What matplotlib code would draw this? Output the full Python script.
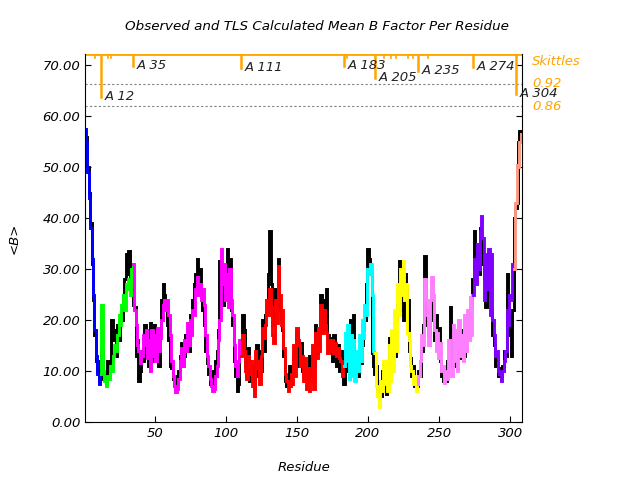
import numpy as np
import matplotlib
matplotlib.use('Agg')
import matplotlib.pyplot as plt
import matplotlib.transforms as mtransforms

# observed mean B per residue (black), residues 1..308
observed = [
    55.5, 56, 50, 45, 39, 31, 24, 17, 12, 10, 8, 12,
    14, 8.5, 9.5, 7.5, 12, 10, 12, 20, 16, 18, 13, 19, 16, 21, 20, 25, 28, 33, 29, 33.5, 27, 26, 23,
    22.5, 13, 16, 8, 10, 14, 12, 19, 13, 16, 11, 19.5, 12, 15, 19, 13, 15, 11, 17, 24, 27, 25, 22, 19, 16,
    11, 10.5, 8.5, 7, 7, 9, 10, 13, 15.5, 12.5, 13, 17, 16, 14, 21, 19, 24, 27, 29, 32,
    27, 30, 25, 22, 19, 14, 11.5, 9.5, 7.5, 8.5, 10, 7.5, 12, 14, 18, 31.5, 28, 23, 25, 28,
    34, 25, 32, 22, 19, 12, 9, 6, 7.5, 13, 16,
    21, 18, 11, 9, 14.5, 8, 11, 9.5, 6.5, 12, 15, 9, 14, 10, 20, 14, 21, 22, 29, 37.5,
    27, 19, 20, 26, 23, 32, 22, 20, 18, 13, 8, 7, 9, 11, 7.5, 10, 13, 11, 17.5, 13,
    11, 15.5, 10, 11.5, 8, 9, 7, 13, 9, 12, 11, 19, 13.5, 16, 18, 25, 20, 24, 18, 26,
    17, 14, 16.5, 12, 17, 14.5, 11, 15, 10, 14, 9, 7.5,
    14, 10, 15, 12, 20, 14, 21, 13, 12, 9, 13, 11.5, 15, 18, 20, 27, 34, 32, 29, 13.5, 11, 9.5,
    11, 6, 8, 5, 10, 8.5, 11, 5.5, 11, 16.5, 13, 10, 16, 13, 20, 23, 31.5, 27, 22, 20,
    29, 26, 24, 14, 12.5, 9, 11, 7, 8.5, 7,
    10, 9, 14, 19, 32.5, 22, 19, 17, 20, 24, 21, 16, 21, 15, 18.5, 12, 9, 8, 9.5, 8,
    12, 11, 22.5, 14, 12.5, 15, 11, 16, 12.5, 18, 13.5, 15, 13, 18, 17, 21, 19, 23, 28,
    37.5, 30, 33, 29, 38, 35, 31, 28, 22.5, 30, 25, 28, 22, 17, 15, 11, 12, 9, 10.5, 9,
    11, 14, 13, 29, 17, 21, 13, 22, 40, 42, 43, 55, 57, 56,
]

# TLS calculated mean B per residue, residues 1..308
calculated = [
    57.5, 55, 49, 44, 38, 32, 25, 18, 13, 9.5, 7.5, 9.5,
    23, 10, 8, 7, 9, 8.5, 11, 10, 13, 15, 14, 17, 21, 19, 23, 25, 22, 27, 26, 28, 25, 30, 31,
    22, 19, 15, 14, 11.5, 13, 17, 15, 18, 12.5, 16, 10, 18, 13, 17, 12, 18.5, 14, 16.5, 20, 23, 24, 22, 24, 21,
    17, 12, 9, 7, 5.8, 6.5, 8.5, 12, 14.5, 11, 16, 14, 19.5, 15, 20, 17, 22, 21, 26, 28.5,
    25, 27, 24, 26, 23, 17, 13, 11, 8.5, 7, 6, 6.5, 9, 11, 16, 20, 34, 27, 31, 24,
    29, 22.5, 30, 24, 21, 15, 11, 9, 12, 16, 13,
    17, 14, 10, 8.5, 13, 9.5, 12, 7, 5, 14, 10.5, 12, 7.5, 13, 18.5, 16.5, 19, 24, 21, 26,
    22.5, 17, 15.5, 24, 19.5, 30.5, 25, 19, 22, 14.5, 9.5, 8, 6, 7, 9.5, 7.5, 15, 9, 18.5, 16,
    15, 11, 13, 8, 12.5, 6.5, 10.5, 6, 8, 15, 6.5, 17.5, 12.5, 18.5, 14, 23, 17.5, 22, 19, 17.5,
    13.5, 16, 14, 16, 13.5, 15.5, 13, 14.5, 12.5, 12, 9, 11,
    17.5, 12, 19, 8.5, 17, 9, 16, 8, 14, 10, 17, 12, 20, 16.5, 23, 21, 30, 29, 31, 25, 14, 13.5,
    7, 5, 3, 8, 6, 12, 7.5, 12, 6, 15, 8, 18, 10, 22, 14, 27, 21, 30, 25, 31.5,
    24, 27, 17.5, 16, 11, 10, 7.5, 9, 6, 7.5,
    9, 12, 17, 15, 28, 24, 21, 15, 24, 28.5, 25, 18, 14, 17.5, 12.5, 15.5, 10, 11, 7.7, 10,
    8.5, 16, 10, 9, 19, 12, 18, 10, 20, 13, 17, 12, 21, 14, 22, 16, 24.5, 17, 25,
    32, 27, 35, 30, 37.5, 40.5, 36, 24, 33, 26, 34, 21, 33, 20, 17, 13, 14, 10, 9.5, 8,
    10, 12, 14, 22, 19, 25, 24, 31, 30, 43, 50.5, 50, 55, 56.5,
]

# TLS segments (first residue, last residue, colour)
seg_start = [1, 12, 35, 111, 183, 205, 235, 274, 303]
seg_end = [12, 35, 111, 183, 205, 235, 274, 303, 308]
seg_colors = ['#0000ff', '#00ff00', '#ff00ff', '#ff0000', '#00ffff',
              '#ffff00', '#ff80ff', '#8000ff', '#fa9a80']

# skittles partition marks: residue, depth of the orange line, label
mark_res = [12, 35, 111, 183, 205, 235, 274, 304]
mark_low = [63.8, 69.9, 69.5, 69.9, 67.5, 68.8, 69.7, 64.3]
small_res = [8, 17, 19, 185, 211, 216, 220, 228, 232, 242]
levels = [66.4, 61.9]
level_labels = ['0.92', '0.86']

orange = '#ffa500'
plt.rcParams['font.family'] = ['DejaVu Sans']
plt.rcParams['font.style'] = 'italic'

res = np.arange(1, len(observed) + 1)
obs = np.array(observed)
calc = np.array(calculated)

fig = plt.figure(figsize=(6.4, 4.8), dpi=100)
ax = fig.add_axes([0.133, 0.121, 0.683, 0.7665])

ax.plot(res, obs, color='black', lw=2.1, drawstyle='steps-mid', solid_joinstyle='miter')
for s, e, c in zip(seg_start, seg_end, seg_colors):
    m = (res >= s) & (res <= e)
    ax.plot(res[m], calc[m], color=c, lw=2.1, drawstyle='steps-mid', solid_joinstyle='miter')

ytop = 72.2
for y in levels:
    ax.axhline(y, color='gray', lw=0.8, ls=(0, (2, 2)))
ax.axhline(ytop, color=orange, lw=2)
for r, lo in zip(mark_res, mark_low):
    ax.plot([r, r], [ytop, lo], color=orange, lw=1.8)
    ax.text(r + 2.5, lo + 0.1, 'A %d' % r, fontsize=9.5, va='center', ha='left',
            color='#222222', clip_on=False)
for r in small_res:
    ax.plot([r, r], [ytop, ytop - 0.8], color=orange, lw=1.2)

trans = mtransforms.blended_transform_factory(ax.transAxes, ax.transData)
ax.text(1.023, 70.8, 'Skittles', transform=trans, color=orange, fontsize=9.5, va='center')
for y, lab in zip(levels, level_labels):
    ax.text(1.023, y, lab, transform=trans, color=orange, fontsize=9.5, va='center')

ax.set_xlim(1, 308.5)
ax.set_ylim(0, ytop)
ax.set_xticks([50, 100, 150, 200, 250, 300])
ax.set_yticks(np.arange(0, 71, 10))
ax.set_yticklabels(['%.2f' % v for v in np.arange(0, 71, 10)])
ax.tick_params(direction='in', length=4, labelsize=9.5, right=True, top=False)
ax.spines['top'].set_visible(False)

fig.text(0.495, 0.945, 'Observed and TLS Calculated Mean B Factor Per Residue',
         fontsize=9.7, ha='center', va='center')
ax.set_xlabel('Residue', fontsize=9.5, labelpad=15)
ax.set_ylabel('<B>', fontsize=9.5, labelpad=16)

fig.savefig('out.png', dpi=100)
